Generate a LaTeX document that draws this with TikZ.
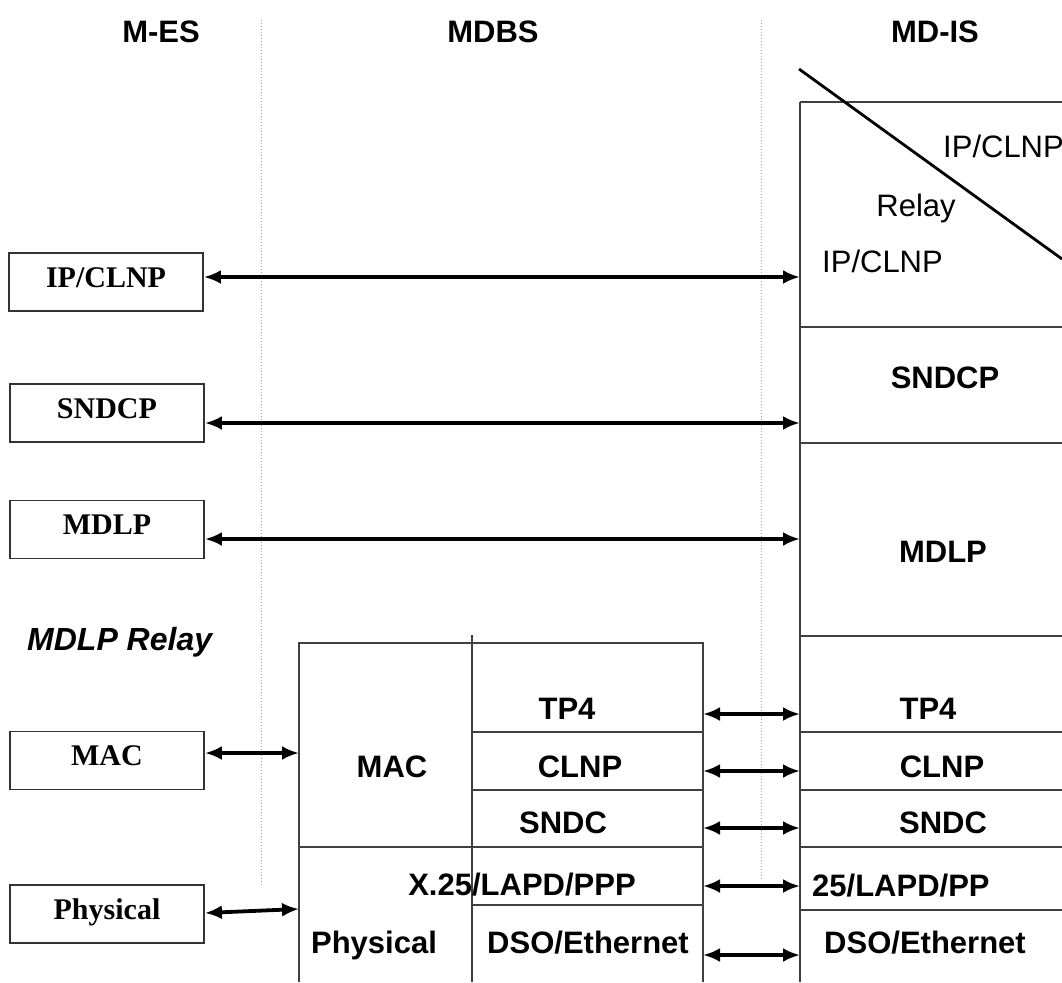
\documentclass[tikz,border=0pt]{standalone}
\usepackage{fontspec}
\setmainfont{Liberation Serif}
\setsansfont{Liberation Sans}
\usetikzlibrary{arrows.meta}
\newcommand\boxfont{\rmfamily\bfseries\fontsize{30}{34}\selectfont}
\newcommand\labfont{\sffamily\bfseries\fontsize{31}{36}\selectfont}
\newcommand\regfont{\sffamily\fontsize{31}{36}\selectfont}
\newcommand\relfont{\sffamily\bfseries\itshape\fontsize{32}{36}\selectfont}
\tikzset{
  lbox/.style={draw=black!80, line width=1.9pt, minimum width=194pt, minimum height=58pt,
    inner sep=0pt, text height=20pt, text depth=10pt, font=\boxfont},
  lab/.style={anchor=base, inner sep=0pt, font=\labfont},
  reg/.style={anchor=base, inner sep=0pt, font=\regfont},
  stk/.style={draw=black!75, line width=1.8pt},
  sep/.style={draw=black!35, line width=1pt, dotted},
  arr/.style={draw=black, line width=3.8pt, {Latex[length=17pt,width=14pt]}-{Latex[length=17pt,width=14pt]}},
}
\begin{document}
\begin{tikzpicture}[x=1pt,y=-1pt]
\fill[white] (0,0) rectangle (1062,982);
\useasboundingbox (0,0) rectangle (1062,982);

% headers
\node[lab] (hmes) at (161,42) {M-ES};
\node[lab] (hmdbs) at (493,42) {MDBS};
\node[lab] (hmdis) at (935,42) {MD-IS};

% dotted separators
\draw[sep] (261,20) -- (261,887);
\draw[sep] (761,20) -- (761,880);

% left boxes (M-ES)
\node[lbox] (lip) at (106,282) {IP/CLNP};
\node[lbox] (lsn) at (107,413) {SNDCP};
\node[lbox] (lmd) at (107,529.5) {MDLP};
\node[lbox] (lmac) at (107,760.5) {MAC};
\node[lbox] (lph) at (107,914) {Physical};
\node[anchor=base west, inner sep=0pt, font=\relfont] (relay) at (27,650) {MDLP Relay};

% MD-IS stack
\draw[stk] (800,102) -- (1062,102);
\draw[stk] (800,102) -- (800,982);
\foreach \yy in {327,443,636,732,790,847,910} {\draw[stk] (800,\yy) -- (1062,\yy);}
\draw[draw=black, line width=2.8pt] (799,69) -- (1062,259);
\node[reg, anchor=base west] (ipu) at (943,157) {IP/CLNP};
\node[reg] (rel) at (916,216) {Relay};
\node[reg, anchor=base west] (ipl) at (822,272) {IP/CLNP};
\node[lab] (rsn) at (945,388) {SNDCP};
\node[lab] (rmd) at (943,562) {MDLP};
\node[lab] (rtp) at (928,719) {TP4};
\node[lab] (rcl) at (942,777) {CLNP};
\node[lab] (rsc) at (943,833) {SNDC};
\node[lab, anchor=base west] (rx) at (812,896) {25/LAPD/PP};
\node[lab] (rds) at (925,953) {DSO/Ethernet};

% MDBS stack
\draw[stk] (299,982) -- (299,643) -- (703,643) -- (703,982);
\draw[stk] (472,635) -- (472,982);
\draw[stk] (472,732) -- (703,732);
\draw[stk] (472,790) -- (703,790);
\draw[stk] (299,847) -- (703,847);
\draw[stk] (472,905) -- (703,905);
\node[lab] (mtp) at (567,719) {TP4};
\node[lab] (mcl) at (580,777) {CLNP};
\node[lab] (msc) at (563,833) {SNDC};
\node[lab] (mmac) at (392,777) {MAC};
\node[lab] (mx) at (522,895) {X.25/LAPD/PPP};
\node[lab] (mph) at (374,953) {Physical};
\node[lab] (mds) at (588,953) {DSO/Ethernet};

% connector end points
\coordinate (eip) at (800,277);
\coordinate (esn) at (800,423);
\coordinate (emd) at (800,539);
\coordinate (emac) at (299,753);
\coordinate (eph) at (299,909);
\foreach \n/\yy in {a/714,b/771,c/828,d/886,e/955} {
  \coordinate (m\n) at (703,\yy);
  \coordinate (r\n) at (800,\yy);
}

% connectors
\draw[arr] ([yshift=5pt]lip.east) -- (eip);
\draw[arr] ([yshift=-10pt]lsn.east) -- (esn);
\draw[arr] ([yshift=-9.5pt]lmd.east) -- (emd);
\draw[arr] ([yshift=7.5pt]lmac.east) -- (emac);
\draw[arr] ([yshift=1pt]lph.east) -- (eph);
\foreach \n in {a,b,c,d,e} {\draw[arr] (m\n) -- (r\n);}
\end{tikzpicture}
\end{document}
